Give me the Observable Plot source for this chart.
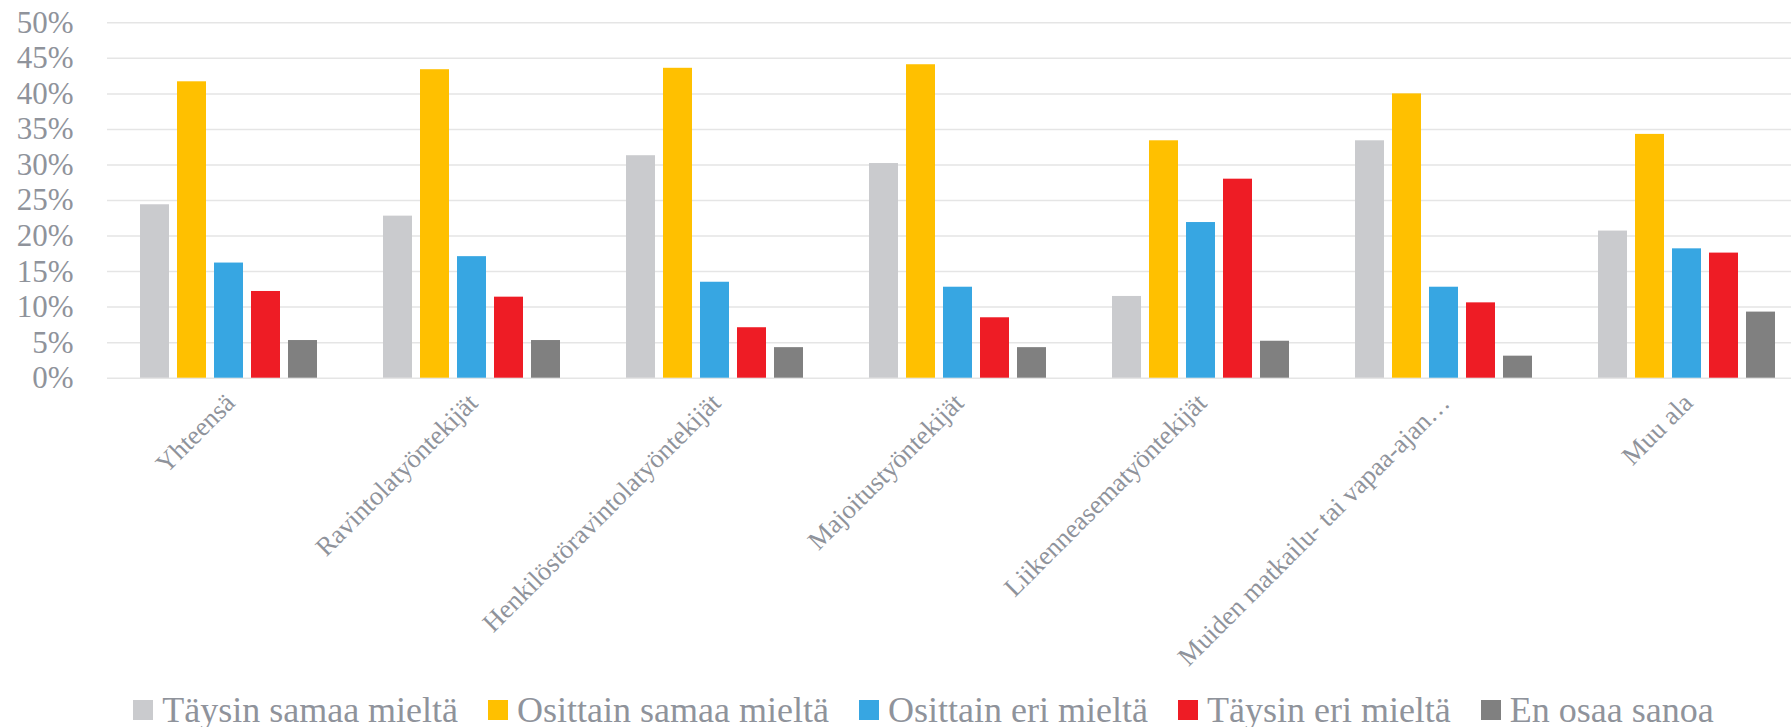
<!DOCTYPE html>
<html>
<head>
<meta charset="utf-8">
<script src="https://cdn.jsdelivr.net/npm/d3@7"></script>
<script src="https://cdn.jsdelivr.net/npm/@observablehq/plot@0.6"></script>
<style>
  html, body { margin: 0; padding: 0; background: #fff; overflow: hidden; }
  #chart { width: 1791px; overflow: hidden; }
  #chart svg { display: block; }
  #legend {
    height: 55px; box-sizing: border-box; padding-top: 20px;
    display: flex; justify-content: center; align-items: center;
    font-family: 'Liberation Serif', serif; font-size: 36px; color: #8f939b;
    padding-left: 56px;
  }
  .item { display: flex; align-items: center; margin-right: 30px; white-space: nowrap; }
  .item:last-child { margin-right: 0; }
  .sw { width: 20px; height: 20px; margin-right: 9px; display: inline-block; }
</style>
</head>
<body>
<div id="chart"></div>
<div id="legend"></div>
<script>
const categories = [
  "Yhteensä",
  "Ravintolatyöntekijät",
  "Henkilöstöravintolatyöntekijät",
  "Majoitustyöntekijät",
  "Liikenneasematyöntekijät",
  "Muiden matkailu- tai vapaa-ajan…",
  "Muu ala"
];
const series = [
  "Täysin samaa mieltä",
  "Osittain samaa mieltä",
  "Osittain eri mieltä",
  "Täysin eri mieltä",
  "En osaa sanoa"
];
const taysinSamaa   = [24.4, 22.8, 31.3, 30.2, 11.5, 33.4, 20.7];
const osittainSamaa = [41.7, 43.4, 43.6, 44.1, 33.4, 40.0, 34.3];
const osittainEri   = [16.2, 17.1, 13.5, 12.8, 21.9, 12.8, 18.2];
const taysinEri     = [12.2, 11.4,  7.1,  8.5, 28.0, 10.6, 17.6];
const enOsaa        = [ 5.3,  5.3,  4.3,  4.3,  5.2,  3.1,  9.3];
const colors = ["#cacbce", "#ffc000", "#37a6e2", "#ee1c25", "#808080"];
const yTicks = [0, 5, 10, 15, 20, 25, 30, 35, 40, 45, 50];

const seriesValues = [taysinSamaa, osittainSamaa, osittainEri, taysinEri, enOsaa];
const data = categories.flatMap((c, i) =>
  series.map((s, j) => ({cat: c, series: s, value: seriesValues[j][i]}))
);

const chart = Plot.plot({
  width: 1791,
  height: 672,
  marginLeft: 106,
  marginRight: -17.5,
  marginTop: 22.3,
  marginBottom: 294.3,
  style: {
    fontFamily: "'Liberation Serif', serif",
    fontSize: "31px",
    color: "#8f939b",
    background: "white",
    overflow: "visible"
  },
  fx: {domain: categories, paddingInner: 0, paddingOuter: 0, axis: null, label: null},
  x: {domain: series, paddingInner: 0.209, paddingOuter: 0.856, axis: null, label: null},
  y: {domain: [0, 50], ticks: 10, tickFormat: d => d + "%", tickSize: 0, tickPadding: 34, label: null},
  color: {domain: series, range: colors},
  marks: [
    Plot.ruleY(yTicks, {stroke: "#e5e5e5", strokeWidth: 1.5}),
    Plot.barY(data, {fx: "cat", x: "series", y: "value", fill: "series"}),
    Plot.text(categories, {
      fx: d => d, text: d => d, frameAnchor: "bottom",
      rotate: -45, textAnchor: "end", lineAnchor: "top",
      dx: -6, dy: 13, fontSize: 26.5, fill: "#8f939b"
    })
  ]
});
document.getElementById("chart").appendChild(chart);

const legend = document.getElementById("legend");
series.forEach((s, i) => {
  const item = document.createElement("div");
  item.className = "item";
  const sw = document.createElement("span");
  sw.className = "sw";
  sw.style.background = colors[i];
  const t = document.createElement("span");
  t.textContent = s;
  item.appendChild(sw);
  item.appendChild(t);
  legend.appendChild(item);
});
</script>
</body>
</html>
